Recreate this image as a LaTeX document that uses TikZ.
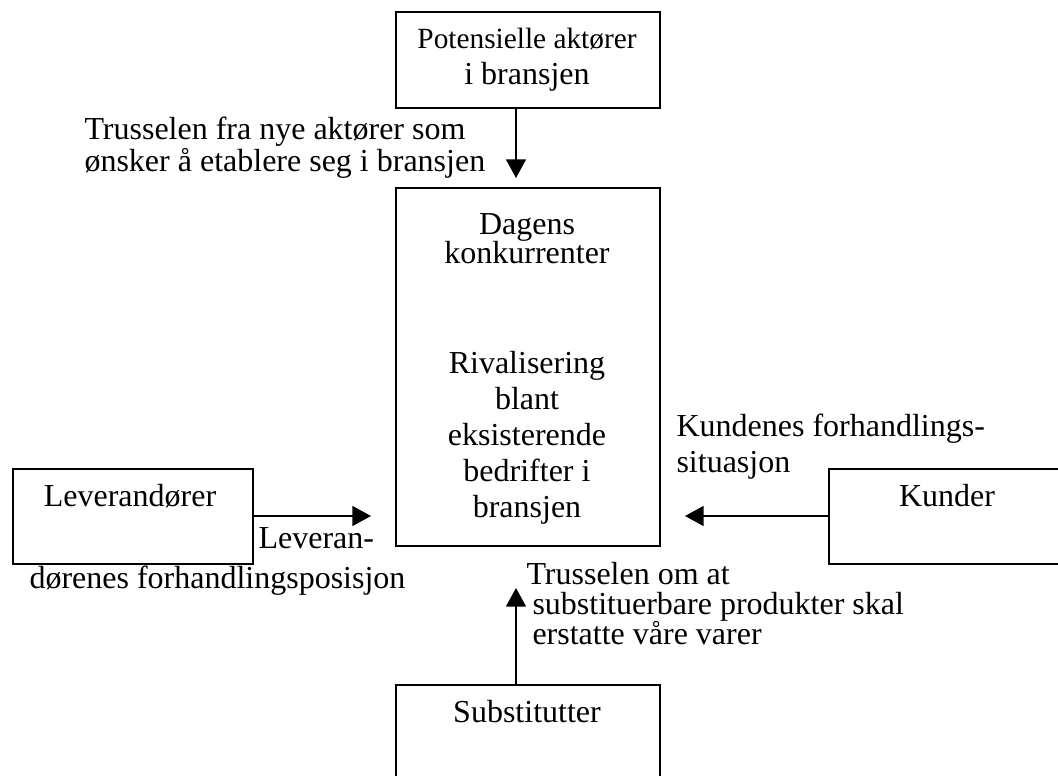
\documentclass[tikz,border=0pt]{standalone}
\usepackage{fontspec}
\setmainfont{Liberation Serif}
\usetikzlibrary{arrows.meta}
\tikzset{
	frame/.style={draw,line width=0.6pt,inner sep=0pt,anchor=north west},
	arr/.style={line width=0.6pt,-{Triangle[length=7pt,width=7.5pt]}},
	txt/.style={inner sep=0pt,font=\fontsize{12}{13.5}\selectfont},
}
\begin{document}
\begin{tikzpicture}[x=0.375pt,y=-0.375pt]
		\useasboundingbox (0,0) rectangle (1058,776);
		%
		\node[frame,minimum width=99pt,minimum height=36pt] (top) at (395,11) {};
		\node[frame,minimum width=99pt,minimum height=134.25pt] (ctr) at (395,187) {};
		\node[frame,minimum width=90pt,minimum height=35.6pt] (lev) at (12,468) {};
		\node[frame,minimum width=89.25pt,minimum height=35.6pt] (kun) at (828,468) {};
		\node[frame,minimum width=99pt,minimum height=40pt] (sub) at (395,684) {};
		%
		\node[txt,anchor=base,align=center] (toptxt) at (527,85) {{\fontsize{11}{13.5}\selectfont Potensielle aktører}\\i bransjen};
		\node[txt,anchor=base,align=center,font=\fontsize{12}{11}\selectfont] (dagtxt) at (527,264) {Dagens\\konkurrenter};
		\node[txt,anchor=base,align=center] (rivtxt) at (527,518) {Rivalisering\\blant\\eksisterende\\bedrifter i\\bransjen};
		\node[txt,anchor=base] (levtxt) at (130,507) {Leverandører};
		\node[txt,anchor=base] (kuntxt) at (947,507) {Kunder};
		\node[txt,anchor=base] (subtxt) at (527,723) {Substitutter};
		%
		\node[txt,anchor=base west,align=left,font=\fontsize{12}{11.25}\selectfont] (nye) at (84,172) {Trusselen fra nye aktører som\\ønsker å etablere seg i bransjen};
		\node[txt,anchor=base west,align=left,font=\fontsize{12}{15.2}\selectfont] (levpos) at (29,589) {\hspace*{85.9pt}Leveran-\\dørenes forhandlingsposisjon};
		\node[txt,anchor=base west,align=left] (kunpos) at (676,473) {Kundenes forhandlings-\\situasjon};
		\node[txt,anchor=base west,align=left,font=\fontsize{12}{11.25}\selectfont] (subpos) at (532,645) {\hspace*{-2.25pt}Trusselen om at\\substituerbare produkter skal\\erstatte våre varer};
		%
		\coordinate (a1) at (516,178);
		\coordinate (a2) at (371,516);
		\coordinate (a3) at (685,516);
		\coordinate (a4) at (516,588);
		\draw[arr] (top.south -| a1) -- (a1);
		\draw[arr] (lev.east |- a2) -- (a2);
		\draw[arr] (kun.west |- a3) -- (a3);
		\draw[arr] (sub.north -| a4) -- (a4);
\end{tikzpicture}
\end{document}
